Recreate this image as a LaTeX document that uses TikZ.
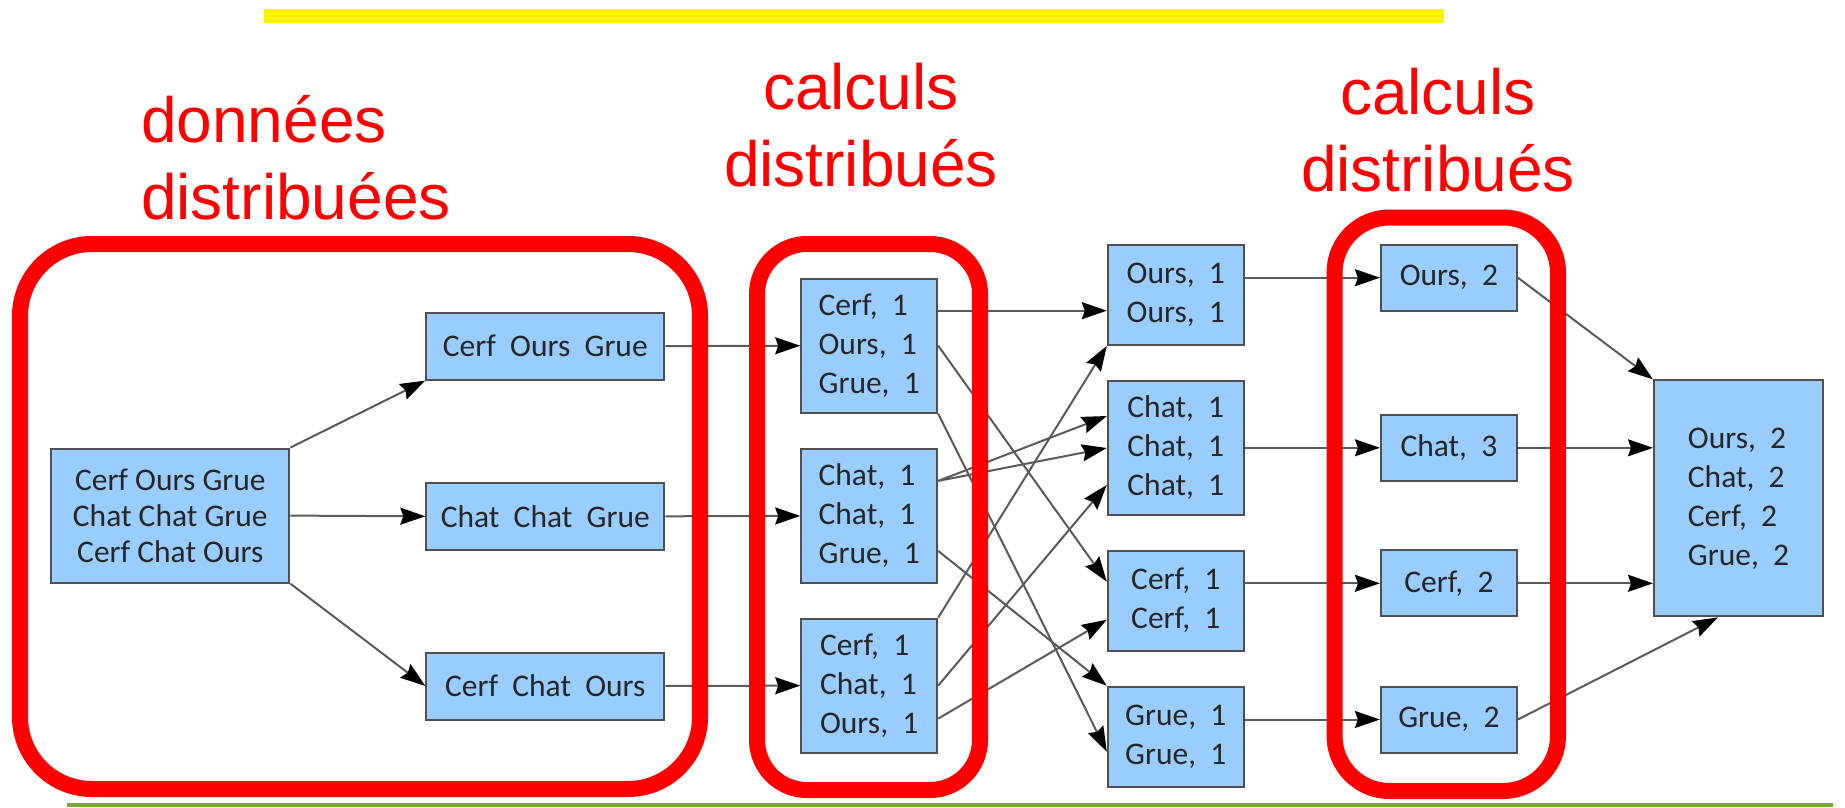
\documentclass[tikz,border=0pt]{standalone}
\usepackage{fontspec}
\setmainfont{Carlito}
\newfontfamily\titlefont{Liberation Sans}
\usetikzlibrary{arrows.meta,calc}
\definecolor{boxblue}{RGB}{153,204,255}
\definecolor{boxline}{RGB}{80,80,80}
\definecolor{flowgray}{RGB}{90,90,90}
\definecolor{slidegreen}{RGB}{122,168,58}
\newcommand{\titlesize}{\titlefont\fontsize{64}{77}\selectfont}
\newcommand{\boxsize}{\fontsize{31.5}{39}\selectfont}
\tikzset{
  wordbox/.style={draw=boxline, fill=boxblue, line width=2pt, inner sep=0pt, font=\boxsize, text=black!85, align=center},
  splitbox/.style={wordbox, minimum width=238pt, minimum height=67pt},
  mapbox/.style={wordbox, align=left, minimum width=136pt, minimum height=134pt},
  pairbox/.style={wordbox, align=left, minimum width=136pt, minimum height=100pt},
  countbox/.style={wordbox, minimum width=136pt, minimum height=66pt},
  flow/.style={draw=flowgray, line width=2pt, -{Stealth[length=25pt,width=17pt,inset=3pt,color=black]}},
  redframe/.style={draw=red, line width=16pt, rounded corners=#1},
  headline/.style={text=red, font=\titlesize, inner sep=0pt, align=center}
}

\begin{document}
\begin{tikzpicture}[x=1pt, y=-1pt]
\useasboundingbox (0,0) rectangle (1845,808);
\fill[yellow] (264,9) rectangle (1444,23);
\fill[slidegreen] (67,803) rectangle (1833,807);

\node[headline, anchor=north west, align=left] (data) at (141,95) {données\\distribuées};
\node[headline, anchor=north] (calc1) at (861,63) {calculs\\distribués};
\node[headline, anchor=north] (calc2) at (1438,68) {calculs\\distribués};

\node[wordbox, minimum width=238pt, minimum height=134pt, font=\fontsize{31.5}{36}\selectfont] (in) at (170.3,515.6) {Cerf Ours Grue\\Chat Chat Grue\\Cerf Chat Ours};
\node[splitbox] (sp1) at (545.3,346.1) {Cerf~~Ours~~Grue};
\node[splitbox] (sp2) at (545.3,516.3) {Chat~~Chat~~Grue};
\node[splitbox] (sp3) at (545.3,686) {Cerf~~Chat~~Ours};

\node[mapbox] (mapA) at (869.2,345.7) {Cerf,~~1\\Ours,~~1\\Grue,~~1};
\node[mapbox] (mapB) at (869.2,515.9) {Chat,~~1\\Chat,~~1\\Grue,~~1};
\node[mapbox] (mapC) at (869.2,685.6) {Cerf,~~1\\Chat,~~1\\Ours,~~1};

\node[pairbox] (S1) at (1175.8,294.9) {Ours,~~1\\Ours,~~1};
\node[mapbox] (S2) at (1175.8,448) {Chat,~~1\\Chat,~~1\\Chat,~~1};
\node[pairbox] (S3) at (1175.8,600.7) {Cerf,~~1\\Cerf,~~1};
\node[pairbox] (S4) at (1175.8,736.7) {Grue,~~1\\Grue,~~1};

\node[countbox] (R1) at (1448.9,277.7) {Ours,~~2};
\node[countbox] (R2) at (1448.9,447.8) {Chat,~~3};
\node[countbox] (R3) at (1448.9,583.3) {Cerf,~~2};
\node[countbox] (R4) at (1448.9,719.5) {Grue,~~2};

\node[wordbox, align=left, minimum width=169pt, minimum height=236pt] (total) at (1738.5,498.4) {Ours,~~2\\Chat,~~2\\Cerf,~~2\\Grue,~~2};

\draw[flow] (in.north east) -- (sp1.south west);
\draw[flow] (in.east) -- (sp2.west);
\draw[flow] (in.south east) -- (sp3.west);
\draw[flow] (sp1.east) -- (mapA.west);
\draw[flow] (sp2.east) -- (mapB.west);
\draw[flow] (sp3.east) -- (mapC.west);

\coordinate (a1) at ($(mapA.north east)+(0,33)$);
\coordinate (b1) at ($(mapB.north east)+(0,33)$);
\coordinate (b3) at ($(mapB.south east)+(0,-33)$);
\coordinate (c3) at ($(mapC.south east)+(0,-35)$);
\draw[flow] (a1) -- (a1 -| S1.west);
\draw[flow] (mapA.east) -- ($(S3.north west)+(0,32)$);
\draw[flow] (mapA.south east) -- ($(S4.north west)+(0,66)$);
\draw[flow] (b1) -- ($(S2.north west)+(0,36)$);
\draw[flow] (b1) -- (S2.west);
\draw[flow] (b3) -- (S4.north west);
\draw[flow] (mapC.north east) -- (S1.south west);
\draw[flow] (mapC.east) -- ($(S2.south west)+(0,-31)$);
\draw[flow] (c3) -- ($(S3.south west)+(0,-32)$);

\draw[flow] (R1.west -| S1.east) -- (R1.west);
\draw[flow] (R2.west -| S2.east) -- (R2.west);
\draw[flow] (R3.west -| S3.east) -- (R3.west);
\draw[flow] (R4.west -| S4.east) -- (R4.west);

\draw[flow] (R1.east) -- (total.north west);
\draw[flow] (R2.east) -- (R2.east -| total.west);
\draw[flow] (R3.east) -- (R3.east -| total.west);
\draw[flow] (R4.east) -- ($(total.south west)+(65,0)$);

\draw[redframe=72] (20,244) rectangle (700,789);
\draw[redframe=50] (757,244) rectangle (980,790);
\draw[redframe=55] (1334.5,217.5) rectangle (1558,791);
\end{tikzpicture}
\end{document}
